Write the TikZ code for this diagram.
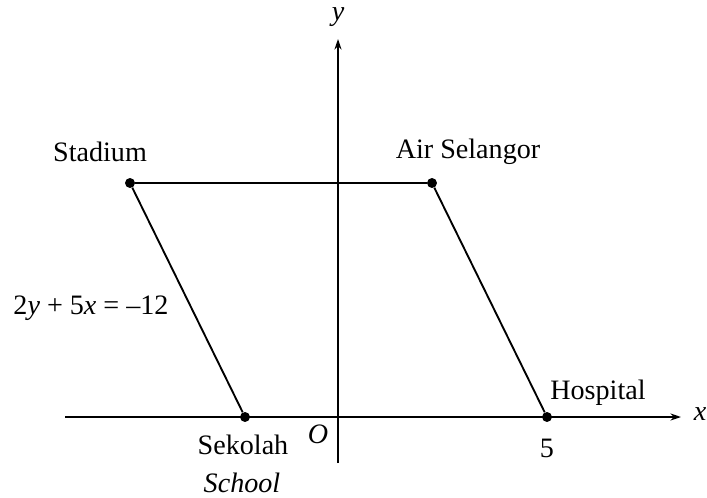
\documentclass[tikz,border=0pt]{standalone}
\usepackage{fontspec}
\setmainfont{Liberation Serif}
\usepackage{tikz}
\usetikzlibrary{arrows.meta}

\begin{document}
\begin{tikzpicture}[x=0.03cm,y=0.03cm,>={Stealth[length=9pt,width=6pt]},
  every node/.style={font=\fontsize{24}{28}\selectfont},
  axis/.style={line width=1.6pt},
  edge/.style={line width=1.6pt},
  dot/.style={circle,fill,inner sep=0pt,minimum size=8.5pt}]
\useasboundingbox (0,0) rectangle (707,497);
\coordinate (xstart) at (65,80);
\coordinate (xend) at (681,80);
\coordinate (ystart) at (338,34);
\coordinate (yend) at (338,458);
\draw[axis,->](xstart)--(xend);
\draw[axis,->](ystart)--(yend);
\node (xlbl) at (700,83) {\textit{x}};
\node (ylbl) at (338,480) {\textit{y}};
\node (olbl) at (318,63) {\textit{O}};
\node[dot] (stadium) at (130,314) {};
\node[dot] (air) at (432,314) {};
\node[dot] (sekolah) at (245,80) {};
\node[dot] (hospital) at (547,80) {};
\draw[edge](stadium)--(air);
\draw[edge](stadium)--(sekolah);
\draw[edge](air)--(hospital);
\node (stadiumlbl) at (100,345) {Stadium};
\node (airlbl) at (468,345) {Air Selangor};
\node (eqlbl) at (91,189) {2\textit{y} + 5\textit{x} = –12};
\node (hospitallbl) at (598,104) {Hospital};
\node (sekolahlbl) at (243,52) {Sekolah};
\node (schoollbl) at (242,14) {\textit{School}};
\node (fivelbl) at (547,49) {5};
\end{tikzpicture}
\end{document}
